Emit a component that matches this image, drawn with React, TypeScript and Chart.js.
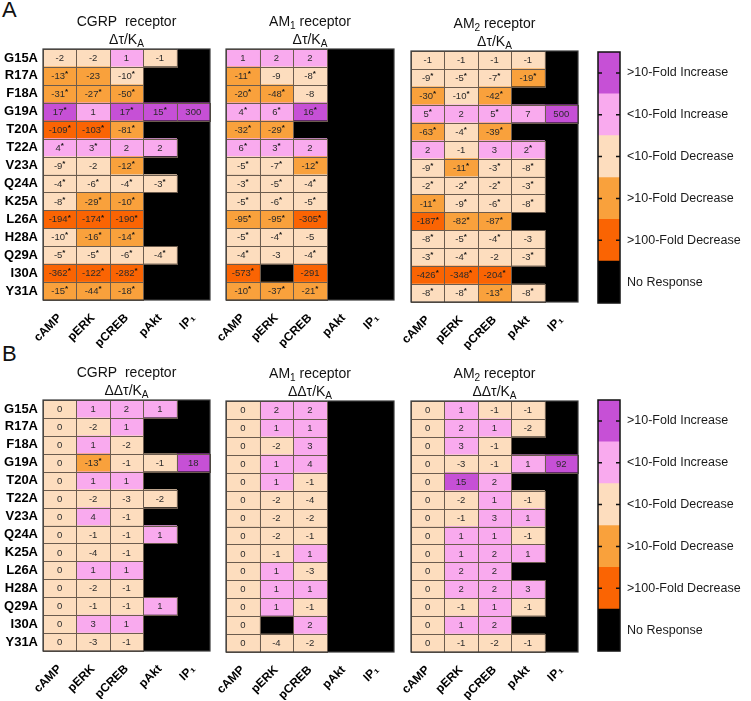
import React, { useEffect, useRef } from "react";
import { Chart, registerables } from "chart.js";

Chart.register(...registerables);

const FONT = "Arial, 'Liberation Sans', Helvetica, sans-serif";

// ---------- data ----------
const mutants = ["G15A", "R17A", "F18A", "G19A", "T20A", "T22A", "V23A", "Q24A", "K25A", "L26A", "H28A", "Q29A", "I30A", "Y31A"];
const pathways = ["cAMP", "pERK", "pCREB", "pAkt", "IP\u2081"];

// legend, top to bottom
const legendLabels = [">10-Fold Increase", "<10-Fold Increase", "<10-Fold Decrease", ">10-Fold Decrease", ">100-Fold Decrease", "No Response"];
const legendColors = ["#C650D6", "#F9AAEE", "#FDDDBE", "#F9A13C", "#FA6403", "#000000"];

type Cell = string | null;

// Panel A: Δτ/KA (columns: cAMP, pERK, pCREB, pAkt, IP1; null = no response)
const cgrpA: Cell[][] = [
  ["-2", "-2", "1", "-1", null],
  ["-13*", "-23", "-10*", null, null],
  ["-31*", "-27*", "-50*", null, null],
  ["17*", "1", "17*", "15*", "300"],
  ["-109*", "-103*", "-81*", null, null],
  ["4*", "3*", "2", "2", null],
  ["-9*", "-2", "-12*", null, null],
  ["-4*", "-6*", "-4*", "-3*", null],
  ["-8*", "-29*", "-10*", null, null],
  ["-194*", "-174*", "-190*", null, null],
  ["-10*", "-16*", "-14*", null, null],
  ["-5*", "-5*", "-6*", "-4*", null],
  ["-362*", "-122*", "-282*", null, null],
  ["-15*", "-44*", "-18*", null, null],
];
const am1A: Cell[][] = [
  ["1", "2", "2", null, null],
  ["-11*", "-9", "-8*", null, null],
  ["-20*", "-48*", "-8", null, null],
  ["4*", "6*", "16*", null, null],
  ["-32*", "-29*", null, null, null],
  ["6*", "3*", "2", null, null],
  ["-5*", "-7*", "-12*", null, null],
  ["-3*", "-5*", "-4*", null, null],
  ["-5*", "-6*", "-5*", null, null],
  ["-95*", "-95*", "-305*", null, null],
  ["-5*", "-4*", "-5", null, null],
  ["-4*", "-3", "-4*", null, null],
  ["-573*", null, "-291", null, null],
  ["-10*", "-37*", "-21*", null, null],
];
const am2A: Cell[][] = [
  ["-1", "-1", "-1", "-1", null],
  ["-9*", "-5*", "-7*", "-19*", null],
  ["-30*", "-10*", "-42*", null, null],
  ["5*", "2", "5*", "7", "500"],
  ["-63*", "-4*", "-39*", null, null],
  ["2", "-1", "3", "2*", null],
  ["-9*", "-11*", "-3*", "-8*", null],
  ["-2*", "-2*", "-2*", "-3*", null],
  ["-11*", "-9*", "-6*", "-8*", null],
  ["-187*", "-82*", "-87*", null, null],
  ["-8*", "-5*", "-4*", "-3", null],
  ["-3*", "-4*", "-2", "-3*", null],
  ["-426*", "-348*", "-204*", null, null],
  ["-8*", "-8*", "-13*", "-8*", null],
];

// Panel B: ΔΔτ/KA
const cgrpB: Cell[][] = [
  ["0", "1", "2", "1", null],
  ["0", "-2", "1", null, null],
  ["0", "1", "-2", null, null],
  ["0", "-13*", "-1", "-1", "18"],
  ["0", "1", "1", null, null],
  ["0", "-2", "-3", "-2", null],
  ["0", "4", "-1", null, null],
  ["0", "-1", "-1", "1", null],
  ["0", "-4", "-1", null, null],
  ["0", "1", "1", null, null],
  ["0", "-2", "-1", null, null],
  ["0", "-1", "-1", "1", null],
  ["0", "3", "1", null, null],
  ["0", "-3", "-1", null, null],
];
const am1B: Cell[][] = [
  ["0", "2", "2", null, null],
  ["0", "1", "1", null, null],
  ["0", "-2", "3", null, null],
  ["0", "1", "4", null, null],
  ["0", "1", "-1", null, null],
  ["0", "-2", "-4", null, null],
  ["0", "-2", "-2", null, null],
  ["0", "-2", "-1", null, null],
  ["0", "-1", "1", null, null],
  ["0", "1", "-3", null, null],
  ["0", "1", "1", null, null],
  ["0", "1", "-1", null, null],
  ["0", null, "2", null, null],
  ["0", "-4", "-2", null, null],
];
const am2B: Cell[][] = [
  ["0", "1", "-1", "-1", null],
  ["0", "2", "1", "-2", null],
  ["0", "3", "-1", null, null],
  ["0", "-3", "-1", "1", "92"],
  ["0", "15", "2", null, null],
  ["0", "-2", "1", "-1", null],
  ["0", "-1", "3", "1", null],
  ["0", "1", "1", "-1", null],
  ["0", "1", "2", "1", null],
  ["0", "2", "2", null, null],
  ["0", "2", "2", "3", null],
  ["0", "-1", "1", "-1", null],
  ["0", "1", "2", null, null],
  ["0", "-1", "-2", "-1", null],
];

// rounded "-10" cells that fall in the <10-fold band
const lowBandTens: [string, string, string][] = [
  ["cgrpA", "R17A", "pCREB"],
  ["cgrpA", "H28A", "cAMP"],
  ["am2A", "F18A", "pERK"],
];

// ---------- helpers ----------
const CELL_BORDER = "#6c5c4e";
const FRAME = "#3a3a3a";
const TEXT = "#2b2b2b";

function colorFor(key: string, row: string, col: string, v: Cell): string {
  if (v == null) return legendColors[5];
  const n = parseFloat(v);
  if (n >= 10) return legendColors[0];
  if (n > 0) return legendColors[1];
  if (n > -10) return legendColors[2];
  if (n === -10 && lowBandTens.some(([k, r, c]) => k === key && r === row && c === col)) return legendColors[2];
  if (n > -100) return legendColors[3];
  return legendColors[4];
}

type Seg = { t: string; sub?: boolean };

function drawRich(ctx: CanvasRenderingContext2D, segs: Seg[], cx: number, cy: number, size: number) {
  const fonts = segs.map((s) => `${s.sub ? size * 0.72 : size}px ${FONT}`);
  const widths = segs.map((s, i) => {
    ctx.font = fonts[i];
    return ctx.measureText(s.t).width;
  });
  const total = widths.reduce((a, b) => a + b, 0);
  let x = cx - total / 2;
  ctx.textAlign = "left";
  ctx.textBaseline = "middle";
  ctx.fillStyle = "#111";
  segs.forEach((s, i) => {
    ctx.font = fonts[i];
    ctx.fillText(s.t, x, cy + (s.sub ? size * 0.32 : 0));
    x += widths[i];
  });
}

const Y_AXIS_W = 45;
const X_AXIS_H = 48;
const PAD_TOP = 50;
const PAD_RIGHT = 6;

type HeatProps = {
  id: string;
  values: Cell[][];
  gridLeft: number;
  gridTop: number;
  gridW: number;
  gridH: number;
  title: Seg[];
  subtitle: Seg[];
  showRows: boolean;
};

function Heatmap({ id, values, gridLeft, gridTop, gridW, gridH, title, subtitle, showRows }: HeatProps) {
  const ref = useRef<HTMLCanvasElement>(null);
  const cw = gridW + Y_AXIS_W + PAD_RIGHT;
  const ch = gridH + PAD_TOP + X_AXIS_H;

  useEffect(() => {
    if (!ref.current) return;
    const datasets = pathways.map((p, j) => ({
      label: p,
      data: mutants.map(() => [j, j + 1] as [number, number]),
      backgroundColor: mutants.map((m, i) => colorFor(id, m, p, values[i][j])),
      borderWidth: 0,
      grouped: false,
      barPercentage: 1,
      categoryPercentage: 1,
    }));

    const plugin = {
      id: "heatCells",
      beforeDatasetsDraw(chart: any) {
        const { ctx, chartArea: a } = chart;
        ctx.save();
        ctx.fillStyle = legendColors[5];
        ctx.fillRect(a.left, a.top, a.width, a.height);
        ctx.restore();
      },
      afterDatasetsDraw(chart: any) {
        const ctx: CanvasRenderingContext2D = chart.ctx;
        const xs = chart.scales.x;
        const ys = chart.scales.y;
        const half = (ys.getPixelForValue(1) - ys.getPixelForValue(0)) / 2;
        ctx.save();
        ctx.strokeStyle = CELL_BORDER;
        ctx.lineWidth = 1;
        values.forEach((row, i) =>
          row.forEach((v, j) => {
            if (v == null) return;
            const x0 = Math.round(xs.getPixelForValue(j)) + 0.5;
            const x1 = Math.round(xs.getPixelForValue(j + 1)) + 0.5;
            const yc = ys.getPixelForValue(i);
            const y0 = Math.round(yc - half) + 0.5;
            const y1 = Math.round(yc + half) + 0.5;
            ctx.strokeRect(x0, y0, x1 - x0, y1 - y0);
          })
        );
        values.forEach((row, i) =>
          row.forEach((v, j) => {
            if (v == null) return;
            const m = /^(-?\d+)(\*?)$/.exec(v);
            if (!m) return;
            const num = m[1];
            const star = m[2];
            const xc = xs.getPixelForValue(j + 0.5);
            const yc = ys.getPixelForValue(i);
            const nf = `9.5px ${FONT}`;
            const sf = `bold 8px ${FONT}`;
            ctx.font = nf;
            const wn = ctx.measureText(num).width;
            ctx.font = sf;
            const ws = star ? ctx.measureText("*").width : 0;
            let x = xc - (wn + ws) / 2;
            ctx.textAlign = "left";
            ctx.textBaseline = "middle";
            ctx.fillStyle = TEXT;
            ctx.font = nf;
            ctx.fillText(num, x, yc + 0.5);
            if (star) {
              ctx.font = sf;
              ctx.fillStyle = "#111";
              ctx.fillText("*", x + wn, yc - 2);
            }
          })
        );
        const a = chart.chartArea;
        ctx.strokeStyle = FRAME;
        ctx.lineWidth = 1.2;
        ctx.strokeRect(a.left, a.top, a.width, a.height);
        ctx.restore();
      },
      afterDraw(chart: any) {
        const ctx: CanvasRenderingContext2D = chart.ctx;
        const a = chart.chartArea;
        const cx = (a.left + a.right) / 2;
        ctx.save();
        drawRich(ctx, title, cx, a.top - 27, 14);
        drawRich(ctx, subtitle, cx, a.top - 9, 14);
        ctx.restore();
      },
    };

    const chart = new Chart(ref.current, {
      type: "bar",
      data: { labels: mutants, datasets: datasets as any },
      options: {
        indexAxis: "y",
        animation: false,
        responsive: false,
        events: [],
        layout: { padding: { top: PAD_TOP, left: 0, right: PAD_RIGHT, bottom: 0 } },
        plugins: { legend: { display: false }, tooltip: { enabled: false } },
        scales: {
          x: {
            type: "linear",
            min: 0,
            max: 5,
            position: "bottom",
            grid: { display: false, drawTicks: false },
            border: { display: false },
            afterBuildTicks: (s: any) => {
              s.ticks = pathways.map((_, j) => ({ value: j + 0.5 }));
            },
            afterFit: (s: any) => {
              s.height = X_AXIS_H;
              s.paddingLeft = 0;
              s.paddingRight = 0;
            },
            ticks: {
              autoSkip: false,
              minRotation: 45,
              maxRotation: 45,
              padding: 11,
              color: "#000",
              font: { family: FONT, size: 12, weight: "bold" },
              callback: (v: any) => pathways[Math.floor(Number(v))],
            },
          },
          y: {
            type: "category",
            grid: { display: false, drawTicks: false },
            border: { display: false },
            afterFit: (s: any) => {
              s.width = Y_AXIS_W;
              s.paddingTop = 0;
              s.paddingBottom = 0;
            },
            ticks: {
              display: showRows,
              autoSkip: false,
              padding: 5,
              color: "#000",
              font: { family: FONT, size: 13, weight: "bold" },
            },
          },
        },
      } as any,
      plugins: [plugin],
    });
    return () => chart.destroy();
  }, []);

  return (
    <canvas
      ref={ref}
      width={cw}
      height={ch}
      style={{ position: "absolute", left: gridLeft - Y_AXIS_W, top: gridTop - PAD_TOP, width: cw, height: ch }}
    />
  );
}

type BarProps = { barLeft: number; barTop: number; barW: number; barH: number };

function ColorBar({ barLeft, barTop, barW, barH }: BarProps) {
  const ref = useRef<HTMLCanvasElement>(null);
  const padL = 8;
  const padV = 10;
  const cw = 751 - (barLeft - padL);
  const ch = barH + 2 * padV;
  useEffect(() => {
    if (!ref.current) return;
    const order = legendLabels.map((_, i) => legendLabels.length - 1 - i); // bottom to top
    const datasets = order.map((k) => ({
      label: legendLabels[k],
      data: [1],
      backgroundColor: legendColors[k],
      borderWidth: 0,
      barPercentage: 1,
      categoryPercentage: 1,
    }));
    const plugin = {
      id: "barFrame",
      afterDatasetsDraw(chart: any) {
        const ctx: CanvasRenderingContext2D = chart.ctx;
        const a = chart.chartArea;
        const ys = chart.scales.y;
        ctx.save();
        ctx.strokeStyle = "#111";
        ctx.lineWidth = 1.5;
        for (let k = 0; k < legendLabels.length - 1; k++) {
          const y = ys.getPixelForValue(legendLabels.length - 1 - k + 0.5);
          ctx.beginPath();
          ctx.moveTo(a.left, y);
          ctx.lineTo(a.left + 4, y);
          ctx.moveTo(a.right - 4, y);
          ctx.lineTo(a.right, y);
          ctx.stroke();
        }
        ctx.lineWidth = 1.5;
        ctx.strokeRect(a.left, a.top, a.width, a.height);
        ctx.restore();
      },
    };
    const chart = new Chart(ref.current, {
      type: "bar",
      data: { labels: [""], datasets },
      options: {
        animation: false,
        responsive: false,
        events: [],
        layout: { padding: { top: padV, bottom: padV, left: padL, right: 0 } },
        plugins: { legend: { display: false }, tooltip: { enabled: false } },
        scales: {
          x: { stacked: true, display: false },
          y: {
            stacked: true,
            position: "right",
            min: 0,
            max: legendLabels.length,
            grid: { display: false, drawTicks: false },
            border: { display: false },
            afterBuildTicks: (s: any) => {
              s.ticks = legendLabels.map((_, i) => ({ value: i + 0.5 }));
            },
            afterFit: (s: any) => {
              s.width = cw - padL - barW;
              s.paddingTop = 0;
              s.paddingBottom = 0;
            },
            ticks: {
              autoSkip: false,
              padding: 7,
              color: "#1a1a1a",
              font: { family: FONT, size: 12.5 },
              callback: (v: any) => legendLabels[legendLabels.length - 1 - Math.floor(Number(v))],
            },
          },
        },
      } as any,
      plugins: [plugin],
    });
    return () => chart.destroy();
  }, []);
  return (
    <canvas
      ref={ref}
      width={cw}
      height={ch}
      style={{ position: "absolute", left: barLeft - padL, top: barTop - padV, width: cw, height: ch }}
    />
  );
}

const letterStyle: React.CSSProperties = {
  position: "absolute",
  left: 2,
  fontFamily: FONT,
  fontSize: 22,
  lineHeight: "22px",
  color: "#111",
};

const subA: Seg[] = [{ t: "\u0394\u03C4/K" }, { t: "A", sub: true }];
const subB: Seg[] = [{ t: "\u0394\u0394\u03C4/K" }, { t: "A", sub: true }];
const tCGRP: Seg[] = [{ t: "CGRP  receptor" }];
const tAM1: Seg[] = [{ t: "AM" }, { t: "1", sub: true }, { t: " receptor" }];
const tAM2: Seg[] = [{ t: "AM" }, { t: "2", sub: true }, { t: " receptor" }];

export default function App() {
  return (
    <div style={{ position: "absolute", left: 0, top: 0, width: 751, height: 701, background: "#fff", overflow: "hidden" }}>
      <div style={{ ...letterStyle, top: -1 }}>A</div>
      <div style={{ ...letterStyle, top: 343 }}>B</div>

      <Heatmap id="cgrpA" values={cgrpA} gridLeft={43} gridTop={49} gridW={167} gridH={251} title={tCGRP} subtitle={subA} showRows />
      <Heatmap id="am1A" values={am1A} gridLeft={226} gridTop={49} gridW={168} gridH={251} title={tAM1} subtitle={subA} showRows={false} />
      <Heatmap id="am2A" values={am2A} gridLeft={411} gridTop={51} gridW={167} gridH={251} title={tAM2} subtitle={subA} showRows={false} />
      <ColorBar barLeft={598} barTop={52} barW={22} barH={251} />

      <Heatmap id="cgrpB" values={cgrpB} gridLeft={43} gridTop={400} gridW={167} gridH={251} title={tCGRP} subtitle={subB} showRows />
      <Heatmap id="am1B" values={am1B} gridLeft={226} gridTop={401} gridW={168} gridH={251} title={tAM1} subtitle={subB} showRows={false} />
      <Heatmap id="am2B" values={am2B} gridLeft={411} gridTop={401} gridW={167} gridH={251} title={tAM2} subtitle={subB} showRows={false} />
      <ColorBar barLeft={598} barTop={400} barW={22} barH={251} />
    </div>
  );
}
